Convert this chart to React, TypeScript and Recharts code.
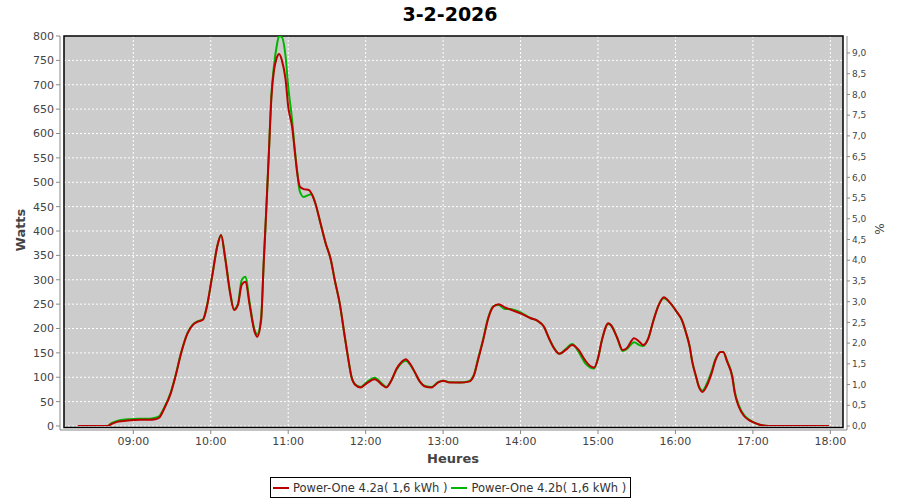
import React from 'react';
import {
  LineChart,
  Line,
  XAxis,
  YAxis,
  CartesianGrid,
  ReferenceArea,
} from 'recharts';

// readings (HH:MM) and watts for both inverters
const times = [
  '08:17', '08:40', '08:43', '08:47', '08:52', '08:58', '09:05', '09:12', '09:17', '09:20',
  '09:24', '09:29', '09:33', '09:37', '09:42', '09:46', '09:50', '09:54', '09:57', '10:01',
  '10:05', '10:08', '10:11', '10:15', '10:18', '10:21', '10:24', '10:27', '10:30', '10:34',
  '10:36', '10:39', '10:41', '10:43', '10:45', '10:47', '10:49', '10:51', '10:53', '10:55',
  '10:58', '11:00', '11:03', '11:05', '11:07', '11:09', '11:12', '11:16', '11:18', '11:21',
  '11:25', '11:29', '11:33', '11:36', '11:40', '11:44', '11:47', '11:49', '11:52', '11:56',
  '12:01', '12:07', '12:13', '12:16', '12:20', '12:24', '12:28', '12:31', '12:35', '12:38',
  '12:42', '12:46', '12:51', '12:56', '13:00', '13:05', '13:13', '13:20', '13:24', '13:27',
  '13:31', '13:35', '13:39', '13:43', '13:48', '13:52', '13:55', '14:00', '14:08', '14:13',
  '14:18', '14:22', '14:26', '14:30', '14:35', '14:40', '14:45', '14:50', '14:54', '14:57',
  '15:00', '15:03', '15:08', '15:10', '15:15', '15:19', '15:22', '15:28', '15:32', '15:35',
  '15:39', '15:43', '15:47', '15:51', '15:56', '16:01', '16:05', '16:08', '16:11', '16:13',
  '16:16', '16:18', '16:21', '16:24', '16:28', '16:31', '16:35', '16:37', '16:40', '16:44',
  '16:46', '16:49', '16:53', '16:57', '17:01', '17:06', '17:12', '17:59',
];

const powerA = [
  0, 0, 4, 8, 10, 12, 13, 13, 14, 17,
  36, 67, 105, 149, 190, 207, 214, 218, 245, 306,
  368, 392, 347, 272, 238, 248, 290, 296, 250, 193,
  183, 217, 334, 443, 559, 675, 730, 754, 763, 751,
  710, 655, 614, 566, 518, 491, 486, 484, 477, 457,
  416, 375, 341, 300, 250, 180, 130, 101, 84, 79,
  88, 96, 84, 79, 94, 118, 132, 137, 125, 111,
  91, 81, 79, 89, 93, 89, 89, 91, 105, 135,
  176, 221, 245, 250, 243, 239, 236, 231, 221, 216,
  204, 180, 159, 148, 156, 166, 156, 135, 123, 120,
  139, 176, 211, 207, 180, 156, 159, 180, 173, 166,
  180, 217, 248, 264, 252, 234, 217, 193, 163, 132,
  101, 81, 70, 81, 108, 135, 152, 152, 132, 101,
  67, 40, 21, 12, 7, 2, 0, 0,
];

const powerB = [
  0, 0, 6, 10, 13, 14, 15, 15, 17, 20,
  38, 69, 107, 150, 191, 208, 215, 219, 246, 306,
  368, 392, 349, 275, 240, 250, 300, 306, 255, 196,
  188, 222, 334, 443, 559, 680, 740, 778, 800, 798,
  757, 696, 628, 570, 522, 481, 470, 474, 476, 457,
  416, 375, 341, 300, 250, 180, 130, 101, 85, 80,
  90, 99, 86, 80, 94, 116, 130, 134, 124, 110,
  91, 82, 80, 90, 93, 90, 89, 92, 106, 137,
  178, 223, 246, 248, 240, 240, 238, 233, 221, 216,
  204, 180, 160, 148, 158, 168, 152, 129, 120, 118,
  139, 176, 209, 207, 180, 154, 157, 172, 166, 164,
  180, 217, 248, 262, 252, 234, 217, 193, 163, 132,
  101, 83, 73, 85, 112, 137, 152, 152, 134, 103,
  70, 43, 23, 13, 7, 2, 0, 0,
];

const hourTicks = ['09:00', '10:00', '11:00', '12:00', '13:00', '14:00', '15:00', '16:00', '17:00', '18:00'];
const wattTicks = [0, 50, 100, 150, 200, 250, 300, 350, 400, 450, 500, 550, 600, 650, 700, 750, 800];
const pctTicks = [0, 0.5, 1, 1.5, 2, 2.5, 3, 3.5, 4, 4.5, 5, 5.5, 6, 6.5, 7, 7.5, 8, 8.5, 9];

const toMin = (s: string) => {
  const [h, m] = s.split(':').map(Number);
  return h * 60 + m;
};
const fmtTime = (v: number) =>
  `${String(Math.floor(v / 60)).padStart(2, '0')}:${String(Math.round(v % 60)).padStart(2, '0')}`;

const data = times.map((t, i) => ({ t: toMin(t), a: powerA[i], b: powerB[i] }));

const X_MIN = 486.3;
const X_MAX = 1089.8;
const PCT_MAX = 9.41;
// plot frame sits a hair under the zero line so the flat night values stay visible
const FRAME_BOTTOM = -3;

const FONT = '"DejaVu Sans", Verdana, sans-serif';
const RED = '#BC0000';
const GREEN = '#00B400';
const tickStyle = { fill: '#444', fontSize: 11, fontFamily: FONT };

export default function App() {
  return (
    <div
      style={{
        position: 'absolute',
        left: 0,
        top: 0,
        width: 900,
        height: 500,
        background: '#fff',
        fontFamily: FONT,
      }}
    >
      <div
        style={{
          position: 'absolute',
          top: 3,
          left: 0,
          width: 900,
          textAlign: 'center',
          fontSize: 19,
          fontWeight: 'bold',
          color: '#000',
        }}
      >
        3-2-2026
      </div>

      <LineChart width={900} height={500} data={data} margin={{ top: 36, right: 0, bottom: 40, left: 0 }}>
        <ReferenceArea
          x1={X_MIN}
          x2={X_MAX}
          y1={FRAME_BOTTOM}
          y2={800}
          fill="#CCCCCC"
          fillOpacity={1}
          stroke="none"
          zIndex={-200}
          ifOverflow="extendDomain"
        />
        <CartesianGrid stroke="#FFFFFF" strokeDasharray="2 2" strokeWidth={1} />
        <ReferenceArea
          x1={X_MIN}
          x2={X_MAX}
          y1={FRAME_BOTTOM}
          y2={800}
          fill="none"
          stroke="#000"
          strokeWidth={1.5}
          zIndex={-50}
          ifOverflow="extendDomain"
        />
        <XAxis
          dataKey="t"
          type="number"
          domain={[X_MIN, X_MAX]}
          allowDataOverflow
          ticks={hourTicks.map(toMin)}
          tickFormatter={fmtTime}
          padding={{ left: 4, right: 4 }}
          height={30}
          tickSize={4}
          tickMargin={3}
          stroke="#888"
          tick={tickStyle}
        />
        <YAxis
          yAxisId={0}
          domain={[0, 800]}
          ticks={wattTicks}
          allowDataOverflow
          padding={{ top: 0, bottom: 4 }}
          width={60}
          tickSize={4}
          tickMargin={2}
          stroke="#888"
          tick={tickStyle}
        />
        <YAxis
          yAxisId="pct"
          orientation="right"
          domain={[0, PCT_MAX]}
          ticks={pctTicks}
          allowDataOverflow
          padding={{ top: 0, bottom: 4 }}
          width={53}
          tickSize={3}
          tickMargin={2}
          stroke="#888"
          tickFormatter={(v: number) => v.toFixed(1).replace('.', ',')}
          tick={{ fill: '#444', fontSize: 9, fontFamily: FONT }}
        />
        <Line
          dataKey="b"
          type="monotone"
          stroke={GREEN}
          strokeWidth={2}
          dot={false}
          isAnimationActive={false}
        />
        <Line
          dataKey="a"
          type="monotone"
          stroke={RED}
          strokeWidth={2}
          dot={false}
          isAnimationActive={false}
        />
      </LineChart>

      <div
        style={{
          position: 'absolute',
          left: 0,
          top: 224,
          width: 40,
          textAlign: 'center',
          transform: 'rotate(-90deg)',
          fontSize: 13,
          fontWeight: 'bold',
          color: '#444',
        }}
      >
        Watts
      </div>
      <div
        style={{
          position: 'absolute',
          left: 860,
          top: 222,
          width: 40,
          textAlign: 'center',
          transform: 'rotate(-90deg)',
          fontSize: 12,
          color: '#444',
        }}
      >
        %
      </div>
      <div
        style={{
          position: 'absolute',
          left: 0,
          top: 451,
          width: 906,
          textAlign: 'center',
          fontSize: 13,
          fontWeight: 'bold',
          color: '#444',
        }}
      >
        Heures
      </div>

      <div
        style={{
          position: 'absolute',
          left: 270,
          top: 477,
          width: 359,
          height: 19,
          border: '1px solid #000',
          display: 'flex',
          alignItems: 'center',
          fontSize: 11.5,
          color: '#333',
          whiteSpace: 'nowrap',
        }}
      >
        {[
          { name: 'Power-One 4.2a( 1,6 kWh )', color: RED },
          { name: 'Power-One 4.2b( 1,6 kWh )', color: GREEN },
        ].map((s) => (
          <span key={s.name} style={{ display: 'flex', alignItems: 'center', marginLeft: 2, marginRight: 2 }}>
            <span style={{ display: 'inline-block', width: 16, height: 2, background: s.color, marginRight: 4 }} />
            {s.name}
          </span>
        ))}
      </div>
    </div>
  );
}
